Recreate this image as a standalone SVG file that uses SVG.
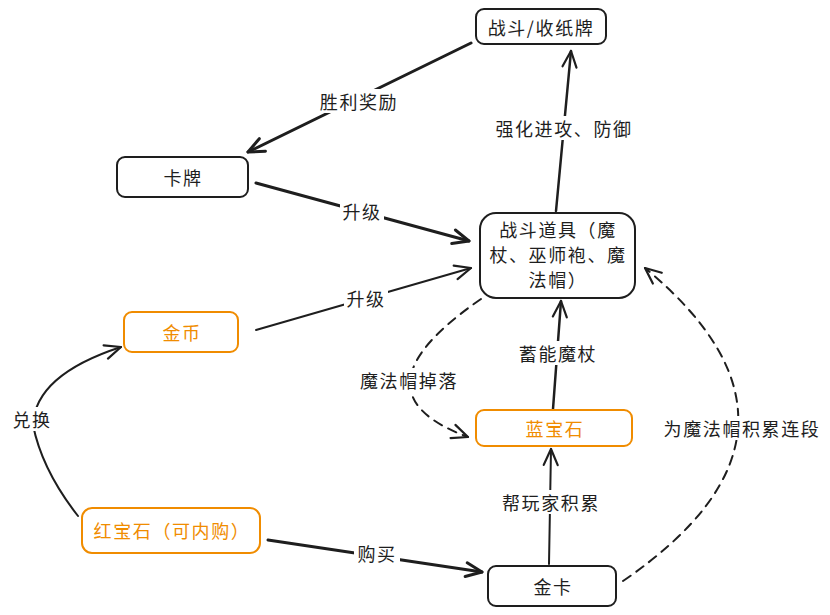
<svg xmlns="http://www.w3.org/2000/svg" width="830" height="615" viewBox="0 0 830 615">
<style>
.bg{fill:#ffffff}
.nb{fill:#ffffff;stroke:#1e1e1e;stroke-width:2}
.no{fill:#ffffff;stroke:#f08c00;stroke-width:2}
.t{font-family:"Noto Sans CJK SC","Noto Sans",sans-serif;font-size:18px;letter-spacing:1.6px;text-anchor:middle;dominant-baseline:central;fill:#1e1e1e}
.to{fill:#f08c00}
.c{fill:none;stroke:#1e1e1e;stroke-linecap:round}
.d{stroke-dasharray:9 7;stroke-width:2}
.lb{fill:#ffffff}
</style>
<defs>
<marker id="ah" viewBox="0 0 20 20" refX="18" refY="10" markerWidth="20" markerHeight="20" markerUnits="userSpaceOnUse" orient="auto">
<path d="M2,3 L18,10 L2,17" fill="none" stroke="#1e1e1e" stroke-width="2.2" stroke-linecap="round" stroke-linejoin="round"/>
</marker>
<marker id="ahb" viewBox="0 0 20 20" refX="18" refY="10" markerWidth="20" markerHeight="20" markerUnits="userSpaceOnUse" orient="auto">
<path d="M2,3 L18,10 L2,17" fill="none" stroke="#1e1e1e" stroke-width="3" stroke-linecap="round" stroke-linejoin="round"/>
</marker>
</defs>
<rect class="bg" x="0" y="0" width="830" height="615"/>
<g id="connectors">
<path class="c" d="M556,211 L571,51" stroke-width="2.5" marker-end="url(#ah)"/>
<path class="c" d="M471,43 L248,152" stroke-width="3" marker-end="url(#ahb)"/>
<path class="c" d="M256,183 L469,241" stroke-width="3" marker-end="url(#ahb)"/>
<path class="c" d="M256,330 L471,268" stroke-width="2" marker-end="url(#ah)"/>
<path class="c d" d="M481,299 Q346,392 468,437" marker-end="url(#ah)"/>
<path class="c" d="M553,409 L561,301" stroke-width="2.5" marker-end="url(#ah)"/>
<path class="c" d="M549,564 L551,449" stroke-width="2" marker-end="url(#ah)"/>
<path class="c" d="M268,540 L482,572" stroke-width="3" marker-end="url(#ahb)"/>
<path class="c d" d="M623,581 Q842,431 645,268" marker-end="url(#ah)"/>
<path class="c" d="M78,516 Q42,470 33,425 Q35,375 121,347" stroke-width="2" marker-end="url(#ah)"/>
</g>
<g id="labels">
<rect class="lb" x="492" y="116" width="144" height="24"/>
<text class="t" x="564" y="128">强化进攻、防御</text>
<rect class="lb" x="318" y="89" width="82" height="24"/>
<text class="t" x="359" y="101">胜利奖励</text>
<rect class="lb" x="340" y="199" width="44" height="24"/>
<text class="t" x="362" y="211">升级</text>
<rect class="lb" x="344" y="286" width="44" height="24"/>
<text class="t" x="366" y="298">升级</text>
<rect class="lb" x="357" y="368" width="102" height="24"/>
<text class="t" x="409" y="380">魔法帽掉落</text>
<rect class="lb" x="516" y="341" width="84" height="24"/>
<text class="t" x="558" y="353">蓄能魔杖</text>
<rect class="lb" x="660" y="416" width="164" height="24"/>
<text class="t" x="742" y="428">为魔法帽积累连段</text>
<rect class="lb" x="499" y="490" width="104" height="24"/>
<text class="t" x="551" y="502">帮玩家积累</text>
<rect class="lb" x="354" y="541" width="46" height="24"/>
<text class="t" x="377" y="553">购买</text>
<rect class="lb" x="10" y="407" width="44" height="24"/>
<text class="t" x="32" y="419">兑换</text>
</g>
<g id="node-battle">
<rect class="nb" x="476" y="9" width="130" height="35" rx="8"/>
<text class="t" x="541" y="27">战斗/收纸牌</text>
</g>
<g id="node-card">
<rect class="nb" x="117" y="157" width="131" height="40" rx="8"/>
<text class="t" x="183" y="177">卡牌</text>
</g>
<g id="node-items">
<rect class="nb" x="480" y="213" width="155" height="85" rx="16"/>
<text class="t" x="558" y="229">战斗道具（魔</text>
<text class="t" x="558" y="254">杖、巫师袍、魔</text>
<text class="t" x="558" y="279">法帽）</text>
</g>
<g id="node-gold">
<rect class="no" x="124" y="312" width="114" height="40" rx="8"/>
<text class="t to" x="182" y="332">金币</text>
</g>
<g id="node-sapphire">
<rect class="no" x="476" y="410" width="156" height="36" rx="8"/>
<text class="t to" x="555" y="428">蓝宝石</text>
</g>
<g id="node-ruby">
<rect class="no" x="82" y="508" width="178" height="45" rx="10"/>
<text class="t to" x="172" y="530">红宝石（可内购）</text>
</g>
<g id="node-goldcard">
<rect class="nb" x="488" y="566" width="128" height="40" rx="8"/>
<text class="t" x="553" y="586">金卡</text>
</g>
</svg>
